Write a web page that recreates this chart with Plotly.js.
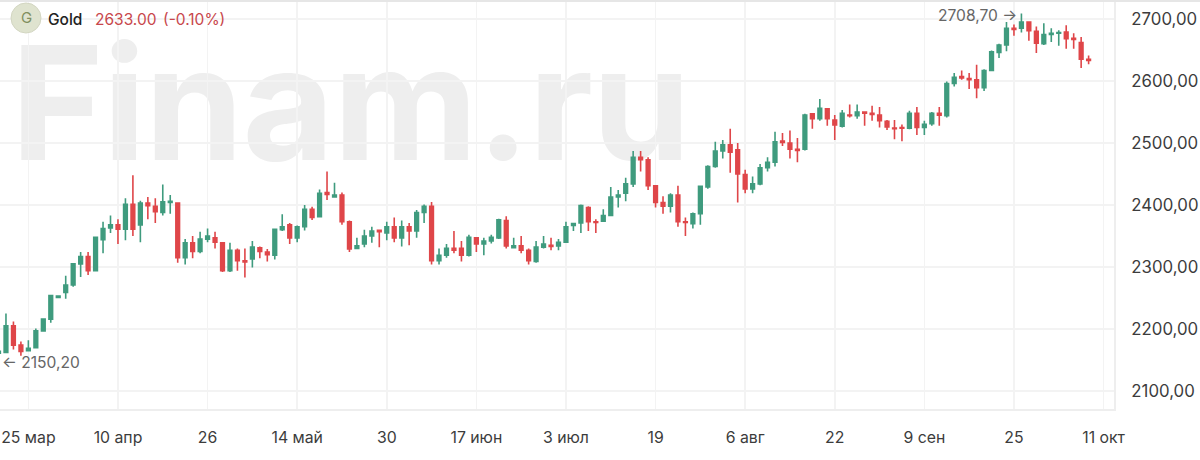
<!DOCTYPE html>
<html><head><meta charset="utf-8">
<script src="https://cdn.plot.ly/plotly-3.0.1.min.js"></script>
<style>
html,body{margin:0;padding:0;background:#fff;width:1200px;height:460px;overflow:hidden}
#wm{position:absolute;left:11px;top:13px;font:700 158px/180px Inter,sans-serif;letter-spacing:-0.8px;color:#eeeeee;white-space:nowrap;z-index:0}
#chart{position:absolute;left:0;top:0;z-index:1}
</style></head><body>
<div id="wm">Finam.ru</div>
<div id="chart"></div>
<script>
const opens=[2161,2162,2205,2174,2165,2170,2197,2216,2251,2259,2271,2305,2317,2294,2344,2363,2368,2361,2401,2368,2403,2398,2388,2404,2403,2315,2339,2325,2345,2347,2339,2294,2327,2310,2313,2331,2324,2319,2360,2368,2347,2365,2393,2381,2420,2413,2416,2373,2330,2337,2350,2359,2355,2365,2347,2365,2358,2388,2398,2310,2319,2330,2330,2319,2347,2337,2342,2347,2375,2331,2334,2327,2309,2332,2335,2334,2340,2367,2371,2396,2373,2374,2383,2413,2419,2434,2477,2473,2431,2404,2398,2416,2373,2370,2386,2429,2462,2487,2497,2489,2449,2426,2434,2460,2469,2503,2500,2490,2490,2547,2539,2555,2537,2527,2545,2544,2550,2548,2545,2535,2524,2525,2524,2548,2525,2531,2548,2544,2596,2607,2604,2602,2589,2617,2646,2658,2685,2685,2695,2680,2660,2675,2677,2679,2669,2662,2635];
const closes=[2164,2205,2174,2164,2169,2197,2216,2254,2253,2271,2305,2317,2294,2348,2362,2368,2361,2401,2361,2403,2399,2389,2405,2406,2315,2339,2325,2345,2350,2340,2294,2327,2310,2308,2332,2325,2320,2361,2365,2347,2365,2393,2380,2419,2417,2416,2373,2329,2334,2350,2358,2357,2365,2347,2365,2358,2388,2398,2310,2319,2330,2327,2319,2348,2337,2342,2348,2376,2334,2334,2327,2310,2332,2337,2333,2340,2365,2370,2399,2373,2372,2383,2413,2416,2434,2477,2473,2431,2404,2398,2416,2373,2372,2386,2430,2462,2487,2497,2485,2450,2426,2434,2460,2469,2502,2501,2490,2488,2545,2539,2556,2539,2529,2548,2544,2550,2548,2546,2536,2526,2523,2524,2548,2525,2530,2548,2545,2596,2606,2605,2602,2589,2617,2647,2658,2685,2683,2695,2681,2661,2675,2677,2678,2668,2667,2635,2633];
const highs=[2164,2225,2212,2180,2182,2201,2217,2255,2253,2286,2306,2324,2324,2349,2373,2383,2377,2411,2448,2407,2413,2411,2433,2416,2404,2345,2350,2357,2362,2357,2340,2339,2330,2330,2342,2333,2329,2362,2385,2371,2367,2400,2397,2425,2454,2436,2420,2375,2347,2360,2365,2360,2373,2380,2375,2371,2392,2401,2405,2330,2337,2358,2342,2352,2348,2347,2352,2378,2382,2347,2350,2330,2342,2350,2347,2345,2373,2371,2401,2398,2377,2393,2429,2424,2444,2487,2487,2477,2432,2414,2419,2431,2380,2388,2431,2464,2502,2505,2523,2500,2457,2446,2466,2477,2518,2516,2520,2508,2547,2548,2571,2556,2545,2553,2562,2562,2550,2560,2558,2537,2537,2530,2552,2558,2536,2550,2558,2599,2613,2617,2613,2626,2619,2649,2660,2695,2691,2708.7,2695,2688,2693,2685,2682,2690,2677,2671,2641];
const lows=[2150.2,2161,2167,2157,2165,2169,2196,2210,2251,2249,2268,2284,2287,2294,2322,2355,2337,2343,2350,2340,2377,2371,2383,2386,2307,2304,2314,2322,2340,2330,2292,2292,2294,2283,2299,2314,2309,2312,2358,2337,2340,2359,2376,2381,2408,2412,2368,2324,2330,2332,2339,2332,2343,2340,2333,2335,2347,2371,2304,2304,2315,2322,2309,2317,2324,2319,2338,2345,2330,2330,2322,2304,2307,2330,2327,2327,2340,2358,2355,2358,2355,2373,2383,2396,2406,2429,2454,2424,2396,2386,2388,2365,2350,2362,2368,2426,2460,2475,2452,2404,2419,2419,2432,2454,2462,2495,2475,2469,2488,2523,2536,2528,2505,2525,2541,2539,2528,2536,2525,2521,2506,2503,2522,2513,2513,2528,2528,2541,2591,2602,2587,2572,2584,2617,2637,2648,2673,2678,2665,2645,2658,2663,2657,2652,2652,2621,2627];
const tickIdx=[3,15,27,39,51,63,75,87,99,111,123,135,147];
const tickLabels=['25 мар','10 апр','26','14 май','30','17 июн','3 июл','19','6 авг','22','9 сен','25','11 окт'];
const priceTicks=[2100,2200,2300,2400,2500,2600,2700];
const priceLabels=['2100,00','2200,00','2300,00','2400,00','2500,00','2600,00','2700,00'];
const x=opens.map((_,i)=>i-1);
const W=1114,H=409;
const px=v=>v/W, py=v=>1-v/H;
const font='Inter, sans-serif';
const note=(xp,yp,text,color,size,anchor,weight)=>({xref:'paper',yref:'paper',x:px(xp),y:py(yp),text,showarrow:false,xanchor:anchor||'left',yanchor:'middle',font:{family:font,size,color,weight:weight||400}});
Plotly.newPlot('chart',[{
  type:'candlestick',x,open:opens,high:highs,low:lows,close:closes,
  increasing:{line:{color:'#3f9b7e',width:1.6},fillcolor:'#3f9b7e'},
  decreasing:{line:{color:'#df4649',width:1.6},fillcolor:'#df4649'},
  whiskerwidth:0,showlegend:false,hoverinfo:'skip'
}],{
  width:1200,height:460,
  margin:{l:0,r:86,t:0,b:51,pad:0},
  paper_bgcolor:'rgba(0,0,0,0)',plot_bgcolor:'rgba(0,0,0,0)',
  showlegend:false,
  xaxis:{type:'linear',range:[-0.8,148.4],tickmode:'array',tickvals:tickIdx,ticktext:tickLabels,
    rangeslider:{visible:false},showgrid:true,gridcolor:'#f3f3f3',gridwidth:1.6,zeroline:false,
    showline:true,linecolor:'#eeeeee',linewidth:2,ticks:'',ticklabelstandoff:13,
    tickfont:{family:font,size:15.8,color:'#3c3c3c'}},
  yaxis:{side:'right',range:[2071,2730.6],tickmode:'array',tickvals:priceTicks,ticktext:priceLabels,
    showgrid:true,gridcolor:'#f3f3f3',gridwidth:1.6,zeroline:false,
    showline:true,linecolor:'#eeeeee',linewidth:2,ticks:'',ticklabelstandoff:12,
    tickfont:{family:font,size:16.8,color:'#3c3c3c'}},
  shapes:[
    {type:'rect',xref:'paper',yref:'paper',x0:0,x1:1200/W,y0:py(0),y1:py(2),fillcolor:'#e6e6e6',line:{width:0}},
    {type:'circle',xref:'paper',yref:'paper',x0:px(11),x1:px(41),y0:py(3),y1:py(33),fillcolor:'#dfe3cf',line:{color:'#d3d6c2',width:1}}
  ],
  annotations:[
    note(26,18,'G','#7f8f5f',15,'center'),
    note(46,19,'Gold','#222222',15.5,'left',500),
    note(93,19,'2633.00','#c8474c',15.5),
    note(161,19,'(-0.10%)','#c8474c',15.5),
    note(1019,15,'2708,70 →','#666666',15.6,'right'),
    note(0,362,'← 2150,20','#666666',15.6)
  ]
},{displayModeBar:false,staticPlot:true});
</script></body></html>
